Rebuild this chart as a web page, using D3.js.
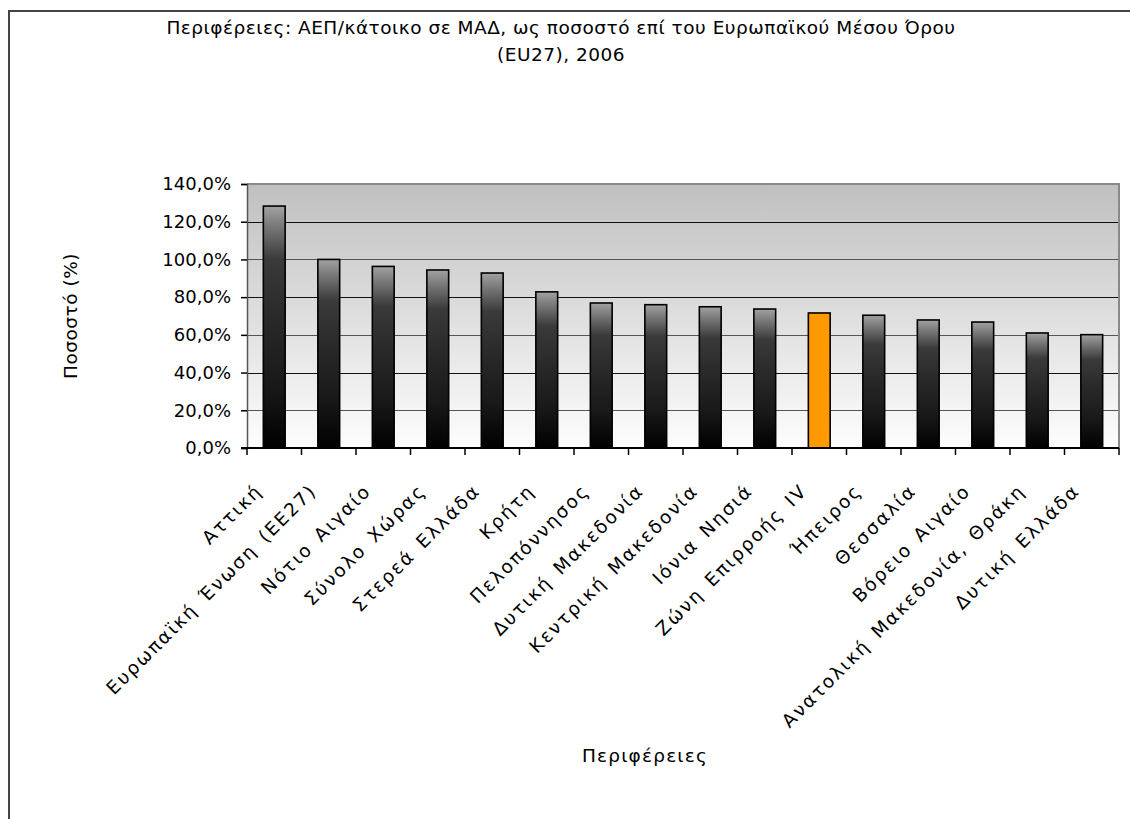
<!DOCTYPE html>
<html>
<head>
<meta charset="utf-8">
<script src="https://cdn.jsdelivr.net/npm/d3@7"></script>
<style>
  html, body { margin: 0; padding: 0; background: #fff; }
  svg text { font-family: "DejaVu Sans", Verdana, sans-serif; fill: #000; }
</style>
</head>
<body>
<svg id="chart" width="1130" height="819"></svg>
<script>
const categories = [
  "Αττική", "Ευρωπαϊκή Ένωση (ΕΕ27)", "Νότιο Αιγαίο", "Σύνολο Χώρας",
  "Στερεά Ελλάδα", "Κρήτη", "Πελοπόννησος", "Δυτική Μακεδονία",
  "Κεντρική Μακεδονία", "Ιόνια Νησιά", "Ζώνη Επιρροής IV", "Ήπειρος",
  "Θεσσαλία", "Βόρειο Αιγαίο", "Ανατολική Μακεδονία, Θράκη", "Δυτική Ελλάδα"
];
const values = [128.3, 100.0, 96.3, 94.4, 92.8, 82.8, 76.9, 76.0, 74.9, 73.7, 71.6, 70.4, 67.9, 66.8, 61.0, 60.1];
const highlighted = ["Ζώνη Επιρροής IV"];
const yTicks = [0, 20, 40, 60, 80, 100, 120, 140];
const titleLines = ["Περιφέρειες: ΑΕΠ/κάτοικο σε ΜΑΔ, ως ποσοστό επί του Ευρωπαϊκού Μέσου Όρου", "(EU27), 2006"];
const yTitle = "Ποσοστό (%)";
const xTitle = "Περιφέρειες";

const svg = d3.select("#chart");
const m = {left: 247, top: 184, right: 1119, bottom: 448};

// outer frame
svg.append("path")
  .attr("d", `M9,830 L9,11 L1140,11`)
  .attr("fill", "none").attr("stroke", "#444").attr("stroke-width", 2);

const defs = svg.append("defs");
const bg = defs.append("linearGradient").attr("id", "bg").attr("x1", 0).attr("y1", 0).attr("x2", 0).attr("y2", 1);
bg.append("stop").attr("offset", "0%").attr("stop-color", "#c0c0c0");
bg.append("stop").attr("offset", "100%").attr("stop-color", "#fdfdfd");

const bar = defs.append("linearGradient").attr("id", "bar").attr("x1", 0).attr("y1", 0).attr("x2", 0).attr("y2", 1);
[["0%", "#a2a2a2"], ["8%", "#7a7a7a"], ["22%", "#3a3a3a"], ["45%", "#2a2a2a"], ["75%", "#181818"], ["100%", "#000"]]
  .forEach(([o, c]) => bar.append("stop").attr("offset", o).attr("stop-color", c));

const x = d3.scaleBand().domain(categories).range([m.left, m.right]).paddingInner(0.6).paddingOuter(0.3);
const xb = d3.scaleBand().domain(categories).range([m.left, m.right]);
const y = d3.scaleLinear().domain([0, 140]).range([m.bottom, m.top]);

// plot background
svg.append("rect").attr("x", m.left).attr("y", m.top)
  .attr("width", m.right - m.left).attr("height", m.bottom - m.top)
  .attr("fill", "url(#bg)");

// gridlines
svg.append("g").selectAll("line").data(yTicks.filter(d => d > 0 && d < 140)).join("line")
  .attr("x1", m.left).attr("x2", m.right)
  .attr("y1", d => Math.round(y(d)) + 0.5).attr("y2", d => Math.round(y(d)) + 0.5)
  .attr("stroke", d => (d / 20) % 2 === 0 ? "#111" : "#555").attr("stroke-width", 1);

// plot border top/right
svg.append("path")
  .attr("d", `M${m.left},${m.top} L${m.right},${m.top} L${m.right},${m.bottom}`)
  .attr("fill", "none").attr("stroke", "#8a8a8a").attr("stroke-width", 2);

// bars
svg.append("g").selectAll("rect").data(categories).join("rect")
  .attr("x", d => x(d)).attr("width", x.bandwidth())
  .attr("y", (d, i) => y(values[i])).attr("height", (d, i) => y(0) - y(values[i]))
  .attr("fill", d => highlighted.includes(d) ? "#ff9900" : "url(#bar)")
  .attr("stroke", "#000").attr("stroke-width", 1.6);

// y axis
const yAxis = d3.axisLeft(y).tickValues(yTicks).tickSize(6).tickPadding(10)
  .tickFormat(d => d3.format(".1f")(d).replace(".", ",") + "%");
const gy = svg.append("g").attr("transform", `translate(${m.left},0)`).call(yAxis);
gy.select(".domain").attr("stroke", "#555").attr("stroke-width", 1.5);
gy.selectAll(".tick line").attr("stroke", "#000").attr("stroke-width", 1.5);
gy.selectAll("text").attr("font-size", 18).attr("letter-spacing", 0)
  .attr("font-family", "DejaVu Sans").attr("fill", "#000");

// x axis baseline and ticks at band boundaries
const gx = svg.append("g");
gx.append("line").attr("x1", m.left - 6).attr("x2", m.right).attr("y1", m.bottom).attr("y2", m.bottom)
  .attr("stroke", "#000").attr("stroke-width", 2);
const bounds = categories.map(d => xb(d)).concat([m.right]);
gx.selectAll("line.t").data(bounds).join("line").attr("class", "t")
  .attr("x1", d => d).attr("x2", d => d).attr("y1", m.bottom).attr("y2", m.bottom + 7)
  .attr("stroke", "#000").attr("stroke-width", 1.5);

// category labels
svg.append("g").selectAll("text").data(categories).join("text")
  .attr("transform", d => `translate(${xb(d) + xb.bandwidth() / 2 - 11},${492}) rotate(-45)`)
  .attr("text-anchor", "end")
  .attr("font-size", 18.5).attr("letter-spacing", 2).attr("word-spacing", 3)
  .text(d => d);

// titles
svg.append("g").selectAll("text").data(titleLines).join("text")
  .attr("x", 561).attr("y", (d, i) => 34 + i * 27)
  .attr("text-anchor", "middle").attr("font-size", 18.5).attr("letter-spacing", 0.5)
  .text(d => d);

svg.append("text")
  .attr("transform", `translate(77,${(m.top + m.bottom) / 2}) rotate(-90)`)
  .attr("text-anchor", "middle").attr("font-size", 18.5).attr("letter-spacing", 0.5)
  .text(yTitle);

svg.append("text")
  .attr("x", 645).attr("y", 762).attr("text-anchor", "middle").attr("font-size", 18.5).attr("letter-spacing", 1.2)
  .text(xTitle);
</script>
</body>
</html>
